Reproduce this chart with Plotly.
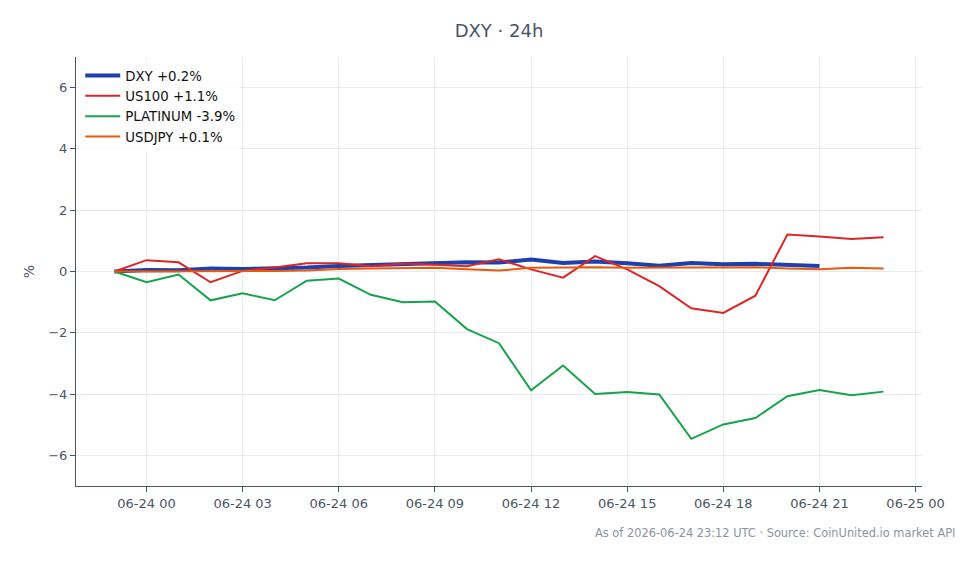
import plotly.graph_objects as go
import pandas as pd

# hourly timestamps from 06-23 23:00 to 06-24 23:00
times = pd.date_range("2026-06-23 23:00", "2026-06-24 23:00", freq="h")

dxy = [0.0, 0.05, 0.04, 0.10, 0.08, 0.10, 0.13, 0.18, 0.21, 0.21, 0.25, 0.30, 0.29,
       0.39, 0.28, 0.33, 0.27, 0.19, 0.28, 0.24, 0.25, 0.20, 0.18]
us100 = [0.0, 0.37, 0.30, -0.35, 0.02, 0.13, 0.27, 0.27, 0.17, 0.26, 0.22, 0.17, 0.40,
         0.07, -0.20, 0.50, 0.07, -0.48, -1.20, -1.35, -0.79, 1.21, 1.14, 1.06, 1.12]
platinum = [0.0, -0.35, -0.10, -0.94, -0.71, -0.94, -0.30, -0.23, -0.76, -1.00, -0.98,
            -1.88, -2.34, -3.88, -3.07, -4.00, -3.93, -4.01, -5.46, -4.99, -4.78, -4.07,
            -3.87, -4.04, -3.92]
usdjpy = [0.0, 0.0, 0.01, 0.0, 0.01, 0.02, 0.03, 0.08, 0.10, 0.12, 0.12, 0.07, 0.03,
          0.12, 0.13, 0.14, 0.12, 0.12, 0.14, 0.12, 0.14, 0.10, 0.07, 0.12, 0.10]

names = ["DXY +0.2%", "US100 +1.1%", "PLATINUM -3.9%", "USDJPY +0.1%"]
colors = ["#1e40af", "#dc2626", "#16a34a", "#ea580c"]
widths = [4, 2, 2, 2]
series = [dxy, us100, platinum, usdjpy]

y_ticks = [-6, -4, -2, 0, 2, 4, 6]

fig = go.Figure()
for name, vals, c, w in zip(names, series, colors, widths):
    fig.add_trace(go.Scatter(
        x=times[:len(vals)], y=vals, mode="lines", name=name,
        line=dict(color=c, width=w),
    ))

font_fam = "DejaVu Sans, sans-serif"
axis_col = "#4a5568"

fig.add_shape(type="line", xref="paper", x0=0, x1=1, yref="y", y0=0, y1=0,
              line=dict(color="#a0aec0", width=1, dash="dash"), layer="below")

fig.update_layout(
    width=980, height=564,
    margin=dict(l=76, r=58, t=57, b=78),
    paper_bgcolor="white", plot_bgcolor="white",
    font=dict(family=font_fam, size=13, color=axis_col),
    title=dict(text="DXY · 24h", xref="paper", x=0.5, xanchor="center",
               y=1 - 31 / 564, yanchor="middle", font=dict(size=18, color=axis_col)),
    legend=dict(x=0.005, y=0.992, xanchor="left", yanchor="top",
                bgcolor="rgba(255,255,255,0.8)", font=dict(size=13.3, color="#111111"),
                tracegroupgap=0, itemwidth=35),
    showlegend=True,
    xaxis=dict(
        range=[pd.Timestamp("2026-06-23 21:48"), pd.Timestamp("2026-06-25 00:12")],
        tickformat="%m-%d %H", dtick=3 * 3600000,
        tick0=pd.Timestamp("2026-06-24 00:00"),
        showgrid=True, gridcolor="#e8ebef", gridwidth=1,
        showline=True, linecolor=axis_col, linewidth=1.2,
        ticks="outside", ticklen=5, tickcolor=axis_col,
        tickfont=dict(size=13, color=axis_col), zeroline=False,
    ),
    yaxis=dict(
        range=[-7, 7], tickvals=y_ticks,
        showgrid=True, gridcolor="#e8ebef", gridwidth=1,
        showline=True, linecolor=axis_col, linewidth=1.2,
        ticks="outside", ticklen=5, tickcolor=axis_col,
        tickfont=dict(size=13, color=axis_col), zeroline=False,
        title=dict(text="%", standoff=10, font=dict(size=14, color=axis_col)),
    ),
)

fig.add_annotation(
    text="As of 2026-06-24 23:12 UTC · Source: CoinUnited.io market API",
    xref="paper", yref="paper", x=(957 - 76) / 846, y=(486 - 533) / 429,
    xanchor="right", yanchor="middle", showarrow=False,
    font=dict(size=11.4, color="#8a94a3", family=font_fam),
)

fig.write_html("out.html")
